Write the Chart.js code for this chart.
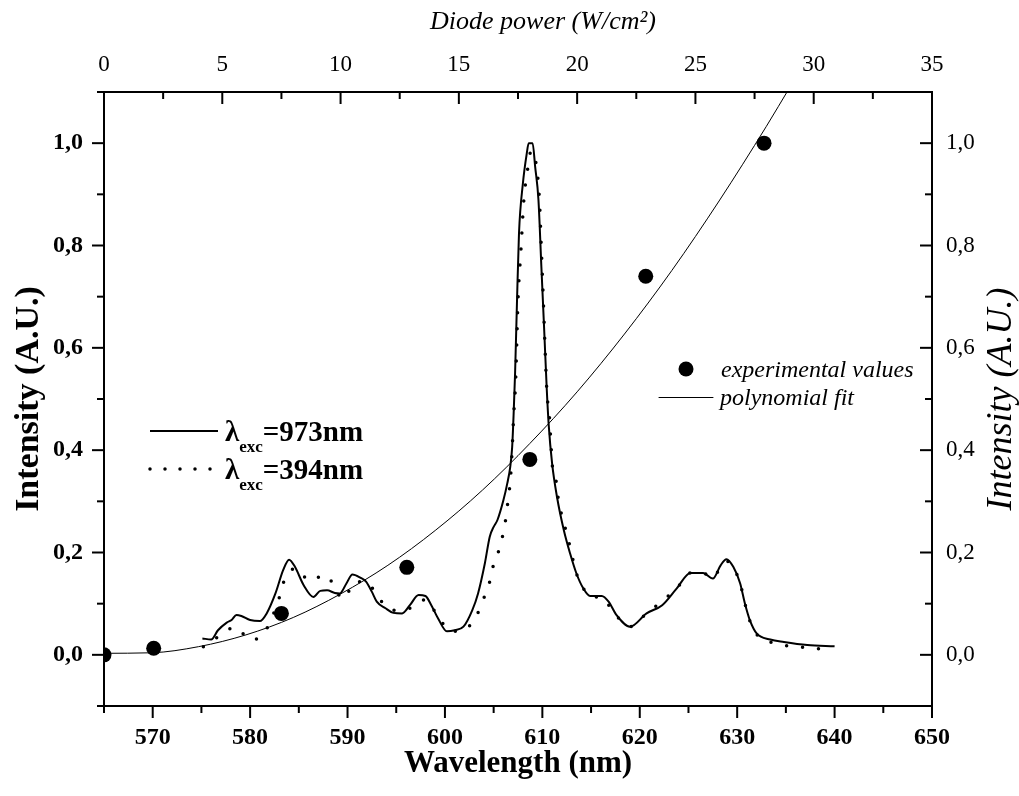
<!DOCTYPE html>
<html>
<head>
<meta charset="utf-8">
<script src="https://cdn.jsdelivr.net/npm/chart.js@4/dist/chart.umd.min.js"></script>
<style>
  html, body { margin: 0; padding: 0; background: #fff; }
  #wrap { width: 1019px; height: 796px; position: relative; }
</style>
</head>
<body>
<div id="wrap"><canvas id="c"></canvas></div>
<script>
// emission spectrum, excitation at 973 nm (solid line)
const wl973 = [575.1, 576.0, 576.7, 577.6, 578.1, 578.6, 579.1, 580.0, 581.0, 581.7, 582.6, 583.4, 584.0, 584.6,
  585.5, 586.5, 587.2, 587.9, 588.7, 589.2, 589.9, 590.5, 591.3, 591.9, 592.5, 593.0, 593.9, 594.7, 595.6, 596.4,
  597.3, 598.0, 598.6, 599.3, 600.2, 601.0, 601.9, 602.8, 603.4, 604.1, 604.6, 605.0, 605.4, 606.0, 606.4, 606.7,
  606.9, 607.05, 607.2, 607.4, 607.6, 608.0, 608.4, 608.6, 609.0, 609.26, 609.6, 609.9, 610.2, 610.45, 610.65,
  611.0, 611.5, 612.2, 612.85, 613.5, 614.2, 614.9, 616.1, 616.8, 617.6, 619.0, 620.7, 622.3, 623.8, 625.2, 626.5,
  627.5, 628.3, 628.9, 629.6, 630.3, 630.8, 631.3, 632.0, 633.4, 634.8, 637.2, 640.0];
const int973 = [0.032, 0.030, 0.048, 0.063, 0.068, 0.078, 0.076, 0.068, 0.066, 0.081, 0.120, 0.166, 0.186, 0.172,
  0.136, 0.113, 0.125, 0.126, 0.121, 0.120, 0.140, 0.157, 0.151, 0.143, 0.123, 0.104, 0.091, 0.082, 0.081, 0.097,
  0.117, 0.115, 0.097, 0.071, 0.046, 0.048, 0.055, 0.087, 0.120, 0.179, 0.231, 0.250, 0.264, 0.302, 0.335, 0.367,
  0.406, 0.470, 0.550, 0.693, 0.823, 0.921, 0.980, 1.000, 1.000, 0.954, 0.889, 0.758, 0.630, 0.520, 0.450,
  0.374, 0.309, 0.244, 0.198, 0.159, 0.130, 0.115, 0.115, 0.104, 0.078, 0.055, 0.081, 0.097, 0.130, 0.160, 0.160,
  0.149, 0.175, 0.187, 0.172, 0.140, 0.100, 0.068, 0.042, 0.030, 0.025, 0.019, 0.017];

// emission spectrum, excitation at 394 nm (dotted line)
const wl394 = [575.2, 576.7, 578.45, 580.1, 581.6, 583.0, 583.5, 584.7, 586.1, 587.7, 589.6, 590.7, 591.9, 593.2,
  594.6, 596.4, 598.0, 599.2, 600.6, 601.9, 603.3, 604.0, 604.6, 605.0, 605.6, 606.0, 606.3, 606.5, 606.7, 606.9,
  607.05, 607.25, 607.5, 607.8, 608.1, 608.5, 608.85, 609.4, 609.7, 609.9, 610.1, 610.35, 610.5, 610.7, 610.9,
  611.0, 611.4, 611.6, 611.95, 612.4, 612.8, 613.5, 614.2, 614.9, 616.1, 616.4, 617.7, 619.0, 620.7, 622.3, 623.8,
  625.2, 626.5, 627.5, 628.3, 628.9, 629.6, 630.3, 630.8, 631.3, 632.0, 633.7, 635.4, 637.2, 638.8];
const int394 = [0.016, 0.035, 0.054, 0.029, 0.048, 0.112, 0.145, 0.169, 0.145, 0.156, 0.109, 0.142, 0.143, 0.111,
  0.087, 0.091, 0.108, 0.078, 0.046, 0.048, 0.079, 0.111, 0.143, 0.177, 0.208, 0.240, 0.273, 0.306, 0.338, 0.401,
  0.466, 0.532, 0.693, 0.791, 0.889, 0.950, 0.985, 0.954, 0.889, 0.791, 0.693, 0.563, 0.504, 0.472, 0.406,
  0.374, 0.341, 0.309, 0.276, 0.244, 0.214, 0.159, 0.130, 0.114, 0.112, 0.107, 0.074, 0.055, 0.081, 0.105, 0.130,
  0.160, 0.160, 0.150, 0.172, 0.183, 0.170, 0.140, 0.100, 0.066, 0.040, 0.023, 0.017, 0.014, 0.011];

// intensity vs diode power
const powerExp = [0, 2.1, 7.5, 12.8, 18.0, 22.9, 27.9];
const intensityExp = [0.0, 0.013, 0.081, 0.171, 0.382, 0.740, 1.0];
const powerFit = [0, 2, 4, 6, 8, 10, 12, 14, 16, 18, 20, 22, 24, 26, 28, 29];
const intensityFit = [0.003, 0.004, 0.016, 0.039, 0.073, 0.119, 0.175, 0.243, 0.322, 0.413, 0.514, 0.627, 0.751, 0.887, 1.033, 1.110];

// axis ticks
const wlTicks = [570, 580, 590, 600, 610, 620, 630, 640, 650];
const wlMinor = [565, 575, 585, 595, 605, 615, 625, 635, 645];
const powerTicks = [0, 5, 10, 15, 20, 25, 30, 35];
const powerMinor = [2.5, 7.5, 12.5, 17.5, 22.5, 27.5, 32.5];
const yTicks = [0, 0.2, 0.4, 0.6, 0.8, 1.0];
const yMinor = [-0.1, 0.1, 0.3, 0.5, 0.7, 0.9, 1.1];

const SERIF = '"Liberation Serif", "Times New Roman", serif';
const comma = v => v.toFixed(1).replace('.', ',');
const pts = (xs, ys) => xs.map((x, i) => ({ x, y: ys[i] }));
const setTicks = list => scale => { scale.ticks = list.map(v => ({ value: v })); };

const tickMarks = {
  id: 'tickMarks',
  afterDraw(chart) {
    const { ctx, chartArea: a, scales } = chart;
    ctx.save();
    ctx.strokeStyle = '#000';
    ctx.lineWidth = 2;
    const mark = (scale, values, len, dir) => {
      values.forEach(v => {
        const p = scale.getPixelForValue(v);
        ctx.beginPath();
        if (scale.isHorizontal()) {
          const y0 = scale.position === 'bottom' ? a.bottom : a.top;
          ctx.moveTo(p, y0);
          ctx.lineTo(p, y0 + dir * len);
        } else {
          const x0 = scale.position === 'left' ? a.left : a.right;
          ctx.moveTo(x0, p);
          ctx.lineTo(x0 + dir * len, p);
        }
        ctx.stroke();
      });
    };
    mark(scales.x, wlTicks, 12, 1);
    mark(scales.x, wlMinor, 7, 1);
    mark(scales.x2, powerTicks, 12, 1);
    mark(scales.x2, powerMinor, 7, 1);
    mark(scales.y, yTicks, 12, -1);
    mark(scales.y, yMinor, 7, -1);
    mark(scales.y2, yTicks, 12, -1);
    mark(scales.y2, yMinor, 7, -1);
    ctx.restore();
  }
};

const legends = {
  id: 'legends',
  afterDraw(chart) {
    const { ctx, chartArea: a } = chart;
    ctx.save();
    ctx.fillStyle = '#000';
    ctx.strokeStyle = '#000';
    ctx.textBaseline = 'alphabetic';
    ctx.textAlign = 'left';

    // spectra legend
    const rows = [{ y: 431, val: '=973nm', dotted: false }, { y: 469, val: '=394nm', dotted: true }];
    rows.forEach(r => {
      ctx.beginPath();
      if (r.dotted) {
        ctx.setLineDash([0, 15]);
        ctx.lineCap = 'round';
        ctx.lineWidth = 3.5;
      } else {
        ctx.setLineDash([]);
        ctx.lineCap = 'butt';
        ctx.lineWidth = 2;
      }
      ctx.moveTo(150, r.y);
      ctx.lineTo(218, r.y);
      ctx.stroke();
      ctx.setLineDash([]);
      let x = 225;
      const base = r.y + 10;
      ctx.font = 'bold 29px ' + SERIF;
      ctx.fillText('λ', x, base);
      x += ctx.measureText('λ').width;
      ctx.font = 'bold 17px ' + SERIF;
      ctx.fillText('exc', x, base + 11);
      x += ctx.measureText('exc').width;
      ctx.font = 'bold 29px ' + SERIF;
      ctx.fillText(r.val, x, base);
    });

    // power legend
    ctx.beginPath();
    ctx.arc(686, 369, 7.5, 0, Math.PI * 2);
    ctx.fill();
    ctx.lineWidth = 1;
    ctx.beginPath();
    ctx.moveTo(659, 397.5);
    ctx.lineTo(713, 397.5);
    ctx.stroke();
    ctx.font = 'italic 24px ' + SERIF;
    ctx.fillText('experimental values', 721, 377);
    ctx.fillText('polynomial fit', 720, 405);

    // top axis title
    ctx.textAlign = 'center';
    ctx.textBaseline = 'middle';
    ctx.font = 'italic 26px ' + SERIF;
    ctx.fillText('Diode power (W/cm²)', 543, 22);

    // right axis title, reading bottom to top
    ctx.translate(1002, (a.top + a.bottom) / 2);
    ctx.rotate(-Math.PI / 2);
    ctx.font = 'italic 36px ' + SERIF;
    ctx.fillText('Intensity (A.U.)', 0, 0);
    ctx.restore();
  }
};

const axisBase = {
  type: 'linear',
  grid: { display: false, drawTicks: false },
  border: { display: true, width: 2, color: '#000' },
};

new Chart(document.getElementById('c'), {
  type: 'scatter',
  data: {
    datasets: [
      {
        label: 'λexc=973nm',
        data: pts(wl973, int973),
        xAxisID: 'x', yAxisID: 'y',
        showLine: true,
        borderColor: '#000',
        borderWidth: 2,
        pointRadius: 0,
        cubicInterpolationMode: 'monotone',
      },
      {
        label: 'λexc=394nm',
        data: pts(wl394, int394),
        xAxisID: 'x', yAxisID: 'y',
        showLine: true,
        borderColor: '#000',
        borderWidth: 3.5,
        borderDash: [0, 16],
        borderCapStyle: 'round',
        pointRadius: 0,
        cubicInterpolationMode: 'monotone',
      },
      {
        label: 'polynomial fit',
        data: pts(powerFit, intensityFit),
        xAxisID: 'x2', yAxisID: 'y2',
        showLine: true,
        borderColor: '#000',
        borderWidth: 1,
        pointRadius: 0,
        cubicInterpolationMode: 'monotone',
      },
      {
        label: 'experimental values',
        data: pts(powerExp, intensityExp),
        xAxisID: 'x2', yAxisID: 'y2',
        showLine: false,
        pointRadius: 7.5,
        pointBackgroundColor: '#000',
        pointBorderColor: '#000',
        pointBorderWidth: 0,
      },
    ],
  },
  options: {
    responsive: true,
    maintainAspectRatio: false,
    animation: false,
    layout: { padding: 0 },
    plugins: { legend: { display: false }, tooltip: { enabled: false } },
    scales: {
      x: {
        ...axisBase,
        position: 'bottom',
        min: 565, max: 650,
        afterBuildTicks: setTicks(wlTicks),
        afterFit: s => { s.height = 90; },
        ticks: { color: '#000', padding: 17, font: { family: SERIF, size: 24, weight: 'bold' }, callback: v => String(v) },
        title: { display: true, text: 'Wavelength (nm)', color: '#000', padding: { top: 0, bottom: 13 },
          font: { family: SERIF, size: 31, weight: 'bold' } },
      },
      x2: {
        ...axisBase,
        position: 'top',
        min: 0, max: 35,
        afterBuildTicks: setTicks(powerTicks),
        afterFit: s => { s.height = 92; },
        ticks: { color: '#000', padding: 13, font: { family: SERIF, size: 23 }, callback: v => String(v) },
        title: { display: false },
      },
      y: {
        ...axisBase,
        position: 'left',
        min: -0.1, max: 1.1,
        afterBuildTicks: setTicks(yTicks),
        afterFit: s => { s.width = 104; },
        ticks: { color: '#000', padding: 21, font: { family: SERIF, size: 24, weight: 'bold' }, callback: v => comma(v) },
        title: { display: true, text: 'Intensity (A.U.)', color: '#000', padding: { top: 9, bottom: 0 },
          font: { family: SERIF, size: 34, weight: 'bold' } },
      },
      y2: {
        ...axisBase,
        position: 'right',
        min: -0.1, max: 1.1,
        afterBuildTicks: setTicks(yTicks),
        afterFit: s => { s.width = 87; },
        ticks: { color: '#000', padding: 14, font: { family: SERIF, size: 23 }, callback: v => comma(v) },
        title: { display: false },
      },
    },
  },
  plugins: [tickMarks, legends],
});
</script>
</body>
</html>
